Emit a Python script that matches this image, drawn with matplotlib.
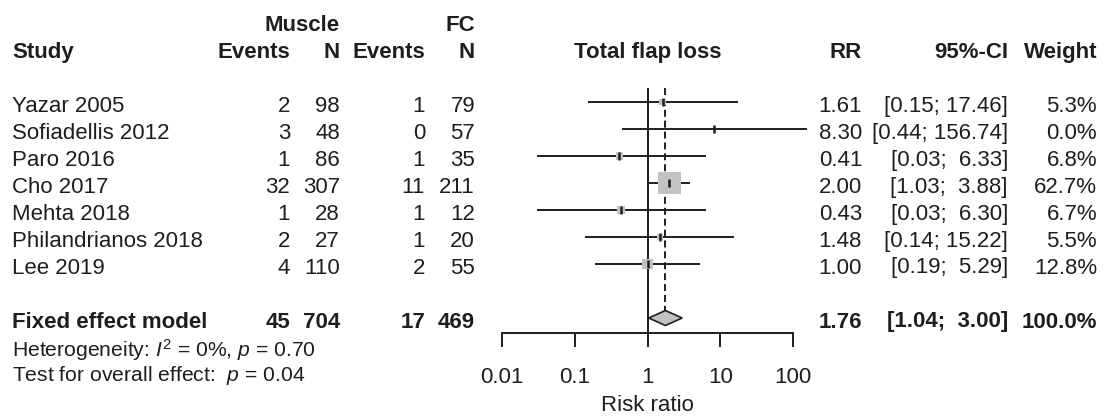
import numpy as np
import matplotlib
matplotlib.use("Agg")
import matplotlib.pyplot as plt
from matplotlib import transforms
from matplotlib.ticker import NullLocator

plt.rcParams['font.family'] = ['Liberation Sans', 'DejaVu Sans']
plt.rcParams['mathtext.fontset'] = 'custom'
plt.rcParams['mathtext.rm'] = 'Liberation Sans'
plt.rcParams['mathtext.it'] = 'Liberation Sans:italic'
plt.rcParams['mathtext.bf'] = 'Liberation Sans:bold'

# ---------------- data ----------------
studies = ["Yazar 2005", "Sofiadellis 2012", "Paro 2016", "Cho 2017",
           "Mehta 2018", "Philandrianos 2018", "Lee 2019"]
events_muscle = [2, 3, 1, 32, 1, 2, 4]
n_muscle = [98, 48, 86, 307, 28, 27, 110]
events_fc = [1, 0, 1, 11, 1, 1, 2]
n_fc = [79, 57, 35, 211, 12, 20, 55]
rr = [1.61, 8.30, 0.41, 2.00, 0.43, 1.48, 1.00]
ci_low = [0.15, 0.44, 0.03, 1.03, 0.03, 0.14, 0.19]
ci_high = [17.46, 156.74, 6.33, 3.88, 6.30, 15.22, 5.29]
weight = [5.3, 0.0, 6.8, 62.7, 6.7, 5.5, 12.8]

pooled_rr = 1.76
pooled_low = 1.04
pooled_high = 3.00
total_events_muscle = 45
total_n_muscle = 704
total_events_fc = 17
total_n_fc = 469
heterogeneity_text = r"Heterogeneity: $I^2$ = 0%, $p$ = 0.70"
overall_text = r"Test for overall effect:  $p$ = 0.04"

axis_ticks = [0.01, 0.1, 1, 10, 100]
axis_ticklabels = ["0.01", "0.1", "1", "10", "100"]

# ---------------- layout ----------------
W, H = 1105, 416
fig = plt.figure(figsize=(W / 100, H / 100), dpi=100)
ax = fig.add_axes([0, 0, 1, 1])
ax.set_xscale('log')
px_per_dec = (793 - 502) / 4.0
ax.set_xlim(10 ** (-2 - 502 / px_per_dec), 10 ** (2 + (W - 793) / px_per_dec))
row0_px, row_h = 48.0, 27.0
ax.set_ylim((H - row0_px) / row_h, -row0_px / row_h)
ax.axis('off')


def prow(px):
    return (px - row0_px) / row_h


txt_tr = transforms.blended_transform_factory(fig.transFigure, ax.transData)
dark = '#1e1e1e'
fs = 16
base_off = 9.5 / row_h

col = dict(study=12, ev_m=290, n_m=340, ev_f=425, n_f=475,
           title=648, rr=862, ci=1008, wt=1097)


def put(xpx, row, s, ha, bold=False, size=fs):
    ax.text(xpx / W, row + base_off, s, transform=txt_tr, ha=ha,
            va='baseline', fontsize=size, color=dark,
            fontweight='bold' if bold else 'normal')


# headers
put(col['n_m'], -1, "Muscle", 'right', True)
put(col['n_f'], -1, "FC", 'right', True)
put(col['study'], 0, "Study", 'left', True)
put(col['ev_m'], 0, "Events", 'right', True)
put(col['n_m'], 0, "N", 'right', True)
put(col['ev_f'], 0, "Events", 'right', True)
put(col['n_f'], 0, "N", 'right', True)
put(col['title'], 0, "Total flap loss", 'center', True)
put(col['rr'], 0, "RR", 'right', True)
put(col['ci'], 0, "95%-CI", 'right', True)
put(col['wt'], 0, "Weight", 'right', True)

rows = np.arange(len(studies)) + 2
for i, r in enumerate(rows):
    put(col['study'], r, studies[i], 'left')
    put(col['ev_m'], r, str(events_muscle[i]), 'right')
    put(col['n_m'], r, str(n_muscle[i]), 'right')
    put(col['ev_f'], r, str(events_fc[i]), 'right')
    put(col['n_f'], r, str(n_fc[i]), 'right')
    put(col['rr'], r, f"{rr[i]:.2f}", 'right')
    put(col['ci'], r, f"[{ci_low[i]:.2f}; {ci_high[i]:5.2f}]", 'right')
    put(col['wt'], r, f"{weight[i]:.1f}%", 'right')

prow_pooled = rows[-1] + 2
put(col['study'], prow_pooled, "Fixed effect model", 'left', True)
put(col['ev_m'], prow_pooled, str(total_events_muscle), 'right', True)
put(col['n_m'], prow_pooled, str(total_n_muscle), 'right', True)
put(col['ev_f'], prow_pooled, str(total_events_fc), 'right', True)
put(col['n_f'], prow_pooled, str(total_n_fc), 'right', True)
put(col['rr'], prow_pooled, f"{pooled_rr:.2f}", 'right', True)
put(col['ci'], prow_pooled, f"[{pooled_low:.2f}; {pooled_high:5.2f}]", 'right', True)
put(col['wt'], prow_pooled, "100.0%", 'right', True)

ax.text(col['study'] / W, prow(357), heterogeneity_text, transform=txt_tr,
        ha='left', va='baseline', fontsize=15.2, color=dark)
ax.text(col['study'] / W, prow(381), overall_text, transform=txt_tr,
        ha='left', va='baseline', fontsize=15.2, color=dark)

# ---------------- forest marks ----------------
lw = 1.4
diamond_half = 7.5 / row_h
axis_row = prow(333)
# reference line at 1 and pooled dashed line
ax.vlines(1, prow(88), axis_row, color=dark, lw=lw, zorder=2)
ax.vlines(pooled_rr, prow(88), prow_pooled - diamond_half, color=dark, lw=lw,
          linestyles=(0, (3.6, 2.0)), zorder=2)

ax.hlines(rows, ci_low, ci_high, color=dark, lw=lw, zorder=3)
w = np.array(weight)
side_px = 22.5 * np.sqrt(w / max(weight))
mask = w > 0
ax.scatter(np.array(rr)[mask], rows[mask], marker='s',
           s=(side_px[mask] * 0.72) ** 2, color='#c2c2c2', edgecolors='none',
           zorder=4)
ax.scatter(rr, rows, marker='|', s=(7.5 * 0.72) ** 2, color=dark,
           linewidths=1.8, zorder=5)

ax.fill([pooled_low, pooled_rr, pooled_high, pooled_rr],
        [prow_pooled, prow_pooled - diamond_half, prow_pooled,
         prow_pooled + diamond_half],
        facecolor='#c2c2c2', edgecolor=dark, lw=1.2, zorder=4)

# ---------------- x axis ----------------
axx = fig.add_axes([0, 1 - 333 / H, 1, 1e-5], sharex=ax)
axx.patch.set_visible(False)
for s in ['left', 'right', 'top']:
    axx.spines[s].set_visible(False)
axx.spines['bottom'].set_bounds(axis_ticks[0], axis_ticks[-1])
axx.spines['bottom'].set_linewidth(lw)
axx.spines['bottom'].set_color(dark)
axx.set_yticks([])
axx.set_xticks(axis_ticks)
axx.set_xticklabels(axis_ticklabels)
axx.xaxis.set_minor_locator(NullLocator())
axx.tick_params(axis='x', direction='out', length=10, width=lw, color=dark,
                labelsize=16, labelcolor=dark, pad=14.5)
fig.text(647 / W, 1 - 411 / H, "Risk ratio", ha='center', va='baseline',
         fontsize=16, color=dark)

fig.savefig("out.png", dpi=100)
